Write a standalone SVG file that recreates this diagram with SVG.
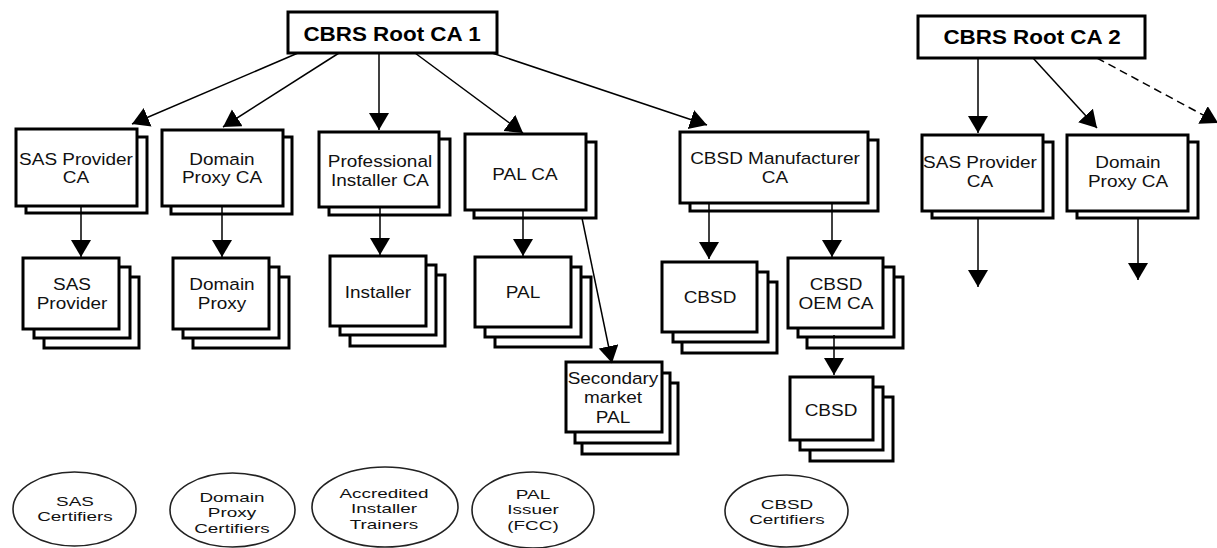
<svg xmlns="http://www.w3.org/2000/svg" width="1217" height="548" viewBox="0 0 1217 548">
<style>
.c{fill:#fff;stroke:#000;stroke-width:3}
.e{fill:#fff;stroke:#222;stroke-width:1.6}
.t{font-family:"Liberation Sans",Arial,sans-serif;font-size:16.5px;fill:#111;text-anchor:middle}
.s{font-family:"Liberation Sans",Arial,sans-serif;font-size:13.5px;fill:#111;text-anchor:middle}
.b{font-family:"Liberation Sans",Arial,sans-serif;font-size:19.5px;font-weight:bold;fill:#000;text-anchor:middle}
.l{fill:none;stroke:#000;stroke-width:1.5;marker-end:url(#ah)}
.d{stroke-dasharray:8 5}
</style>
<defs>
<marker id="ah" markerUnits="userSpaceOnUse" markerWidth="18" markerHeight="22" refX="17" refY="10" orient="auto">
<path d="M0,0 L17,10 L0,20 z" fill="#000"/>
</marker>
</defs>
<rect width="1217" height="548" fill="#fff"/>

<g id="root1">
<rect class="c" x="288" y="12" width="209" height="41"/>
<text class="b" transform="translate(392,41) scale(1.15,1)">CBRS Root CA 1</text>
</g>
<g id="root2">
<rect class="c" x="918" y="16" width="227" height="42"/>
<text class="b" transform="translate(1032,44) scale(1.15,1)">CBRS Root CA 2</text>
</g>

<g id="sas-provider-ca">
<rect class="c" x="26" y="137" width="121" height="76"/>
<rect class="c" x="16" y="129" width="121" height="77"/>
<text class="t" transform="translate(76,165) scale(1.15,1)"><tspan x="0">SAS Provider</tspan><tspan x="0" dy="18">CA</tspan></text>
</g>
<g id="domain-proxy-ca">
<rect class="c" x="171" y="137" width="121" height="77"/>
<rect class="c" x="162" y="130" width="121" height="76"/>
<text class="t" transform="translate(222,165) scale(1.15,1)"><tspan x="0">Domain</tspan><tspan x="0" dy="18">Proxy CA</tspan></text>
</g>
<g id="professional-installer-ca">
<rect class="c" x="329" y="139" width="121" height="76"/>
<rect class="c" x="319" y="132" width="120" height="75"/>
<text class="t" transform="translate(380,167) scale(1.15,1)"><tspan x="0">Professional</tspan><tspan x="0" dy="19">Installer CA</tspan></text>
</g>
<g id="pal-ca">
<rect class="c" x="474" y="142" width="122" height="76"/>
<rect class="c" x="465" y="134" width="121" height="76"/>
<text class="t" transform="translate(525,180) scale(1.15,1)">PAL CA</text>
</g>
<g id="cbsd-manufacturer-ca">
<rect class="c" x="690" y="140" width="188" height="71"/>
<rect class="c" x="680" y="132" width="188" height="71"/>
<text class="t" transform="translate(775,164) scale(1.15,1)"><tspan x="0">CBSD Manufacturer</tspan><tspan x="0" dy="19">CA</tspan></text>
</g>
<g id="sas-provider-ca-2">
<rect class="c" x="932" y="142" width="121" height="76"/>
<rect class="c" x="922" y="135" width="121" height="76"/>
<text class="t" transform="translate(980,168) scale(1.15,1)"><tspan x="0">SAS Provider</tspan><tspan x="0" dy="19">CA</tspan></text>
</g>
<g id="domain-proxy-ca-2">
<rect class="c" x="1077" y="142" width="121" height="76"/>
<rect class="c" x="1067" y="135" width="121" height="76"/>
<text class="t" transform="translate(1128,168) scale(1.15,1)"><tspan x="0">Domain</tspan><tspan x="0" dy="19">Proxy CA</tspan></text>
</g>

<g id="sas-provider">
<rect class="c" x="44" y="277" width="95" height="71"/>
<rect class="c" x="34" y="267" width="96" height="71"/>
<rect class="c" x="23" y="258" width="96" height="71"/>
<text class="t" transform="translate(72,290) scale(1.15,1)"><tspan x="0">SAS</tspan><tspan x="0" dy="19">Provider</tspan></text>
</g>
<g id="domain-proxy">
<rect class="c" x="193" y="277" width="96" height="71"/>
<rect class="c" x="183" y="267" width="96" height="71"/>
<rect class="c" x="173" y="258" width="96" height="71"/>
<text class="t" transform="translate(222,290) scale(1.15,1)"><tspan x="0">Domain</tspan><tspan x="0" dy="19">Proxy</tspan></text>
</g>
<g id="installer">
<rect class="c" x="350" y="275" width="95" height="71"/>
<rect class="c" x="340" y="265" width="96" height="70"/>
<rect class="c" x="330" y="256" width="96" height="70"/>
<text class="t" transform="translate(378,298) scale(1.15,1)">Installer</text>
</g>
<g id="pal">
<rect class="c" x="495" y="277" width="96" height="70"/>
<rect class="c" x="485" y="267" width="96" height="70"/>
<rect class="c" x="475" y="257" width="96" height="70"/>
<text class="t" transform="translate(523,298) scale(1.15,1)">PAL</text>
</g>
<g id="secondary-market-pal">
<rect class="c" x="582" y="383" width="96" height="71"/>
<rect class="c" x="575" y="373" width="95" height="70"/>
<rect class="c" x="566" y="362" width="96" height="70"/>
<text class="t" transform="translate(613,384) scale(1.15,1)"><tspan x="0">Secondary</tspan><tspan x="0" dy="19">market</tspan><tspan x="0" dy="20">PAL</tspan></text>
</g>
<g id="cbsd">
<rect class="c" x="682" y="282" width="95" height="71"/>
<rect class="c" x="673" y="272" width="95" height="70"/>
<rect class="c" x="662" y="262" width="95" height="70"/>
<text class="t" transform="translate(710,303) scale(1.15,1)">CBSD</text>
</g>
<g id="cbsd-oem-ca">
<rect class="c" x="807" y="277" width="96" height="71"/>
<rect class="c" x="798" y="267" width="96" height="70"/>
<rect class="c" x="788" y="258" width="95" height="70"/>
<text class="t" transform="translate(836,290) scale(1.15,1)"><tspan x="0">CBSD</tspan><tspan x="0" dy="19">OEM CA</tspan></text>
</g>
<g id="cbsd-2">
<rect class="c" x="810" y="397" width="83" height="64"/>
<rect class="c" x="800" y="387" width="83" height="63"/>
<rect class="c" x="790" y="377" width="83" height="63"/>
<text class="t" transform="translate(831,416) scale(1.15,1)">CBSD</text>
</g>

<g id="sas-certifiers">
<ellipse class="e" cx="74.5" cy="509" rx="61.5" ry="37"/>
<text class="s" transform="translate(75,506) scale(1.4,1)"><tspan x="0">SAS</tspan><tspan x="0" dy="15.5">Certifiers</tspan></text>
</g>
<g id="domain-proxy-certifiers">
<ellipse class="e" cx="232.5" cy="510" rx="62.5" ry="37"/>
<text class="s" transform="translate(232,502) scale(1.4,1)"><tspan x="0">Domain</tspan><tspan x="0" dy="15.5">Proxy</tspan><tspan x="0" dy="15.5">Certifiers</tspan></text>
</g>
<g id="accredited-installer-trainers">
<ellipse class="e" cx="385" cy="507" rx="73" ry="40"/>
<text class="s" transform="translate(384,498) scale(1.4,1)"><tspan x="0">Accredited</tspan><tspan x="0" dy="15.5">Installer</tspan><tspan x="0" dy="15.5">Trainers</tspan></text>
</g>
<g id="pal-issuer">
<ellipse class="e" cx="533" cy="510" rx="61" ry="38"/>
<text class="s" transform="translate(533,499) scale(1.4,1)"><tspan x="0">PAL</tspan><tspan x="0" dy="15.5">Issuer</tspan><tspan x="0" dy="15.5">(FCC)</tspan></text>
</g>
<g id="cbsd-certifiers">
<ellipse class="e" cx="786.5" cy="511" rx="61.5" ry="36"/>
<text class="s" transform="translate(787,509) scale(1.4,1)"><tspan x="0">CBSD</tspan><tspan x="0" dy="15">Certifiers</tspan></text>
</g>

<g id="connectors">
<line class="l" x1="298" y1="53" x2="132" y2="124"/>
<line class="l" x1="339" y1="53" x2="223" y2="127"/>
<line class="l" x1="379" y1="53" x2="379" y2="130"/>
<line class="l" x1="415" y1="53" x2="523" y2="133"/>
<line class="l" x1="492" y1="53" x2="707" y2="125"/>
<line class="l" x1="81" y1="206" x2="81" y2="257"/>
<line class="l" x1="222" y1="206" x2="222" y2="257"/>
<line class="l" x1="380" y1="207" x2="380" y2="255"/>
<line class="l" x1="523" y1="210" x2="523" y2="256"/>
<line class="l" x1="582" y1="218" x2="612" y2="363"/>
<line class="l" x1="709" y1="203" x2="709" y2="259"/>
<line class="l" x1="832" y1="203" x2="832" y2="257"/>
<line class="l" x1="834" y1="335" x2="834" y2="375"/>
<line class="l" x1="978" y1="58" x2="978" y2="133"/>
<line class="l" x1="1033" y1="58" x2="1097" y2="128"/>
<line class="l d" x1="1097" y1="58" x2="1218" y2="123"/>
<line class="l" x1="978" y1="218" x2="978" y2="287"/>
<line class="l" x1="1138" y1="218" x2="1138" y2="280"/>
</g>
</svg>
